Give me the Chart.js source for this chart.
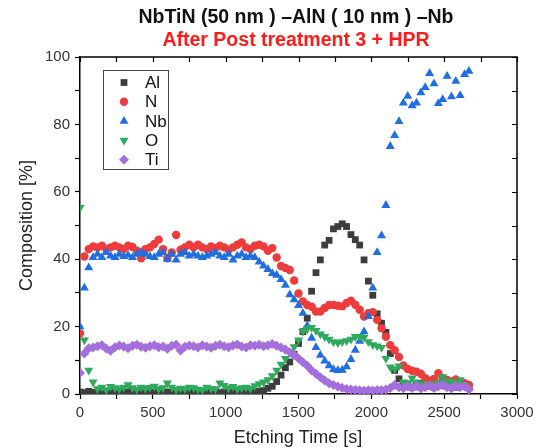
<!DOCTYPE html>
<html><head><meta charset="utf-8">
<script src="https://cdn.jsdelivr.net/npm/chart.js@4/dist/chart.umd.min.js"></script>
<style>html,body{margin:0;padding:0;background:#fff}#wrap{width:549px;height:448px}</style>
</head><body><div id="wrap"><canvas id="c" width="549" height="448"></canvas></div>
<script>
const titleLine1 = 'NbTiN (50 nm ) \u2013AlN ( 10 nm ) \u2013Nb';
const titleLine2 = 'After Post treatment 3 + HPR';
const xTitle = 'Etching Time [s]';
const yTitle = 'Composition [%]';
const seriesNames = ['Al', 'N', 'Nb', 'O', 'Ti'];
const xTickLabels = [0, 500, 1000, 1500, 2000, 2500, 3000];
const yTickLabels = [0, 20, 40, 60, 80, 100];

const time = [0,30,60,90,120,150,180,210,240,270,300,330,360,390,420,450,480,510,540,570,
600,630,660,690,720,750,780,810,840,870,900,930,960,990,1020,1050,1080,1110,1140,1170,
1200,1230,1260,1290,1320,1350,1380,1410,1440,1470,1500,1530,1560,1590,1620,1650,1680,1710,1740,1770,
1800,1830,1860,1890,1920,1950,1980,2010,2040,2070,2100,2130,2160,2190,2220,2250,2280,2310,2340,2370,
2400,2430,2460,2490,2520,2550,2580,2610,2640,2670];

const al = [0.6,0.4,0.8,0.5,0.3,0.9,0.5,0.4,0.7,0.5,0.3,0.6,0.8,0.4,0.5,0.7,0.3,0.5,0.9,0.4,
0.6,0.5,0.3,0.7,0.5,0.4,0.8,0.5,0.6,0.3,0.5,0.7,0.4,0.6,0.5,0.3,0.8,0.5,0.4,0.6,
0.7,0.8,1.0,1.7,2.3,3.7,5.6,7.8,9.5,11.8,15,18.5,22.5,30.5,36,39.8,44.2,45.6,49,49.7,
50.5,49.7,47.3,45.8,44.2,39.8,33.5,29.3,23.8,21,18.3,12,7,4.5,2.4,3.0,2.0,2.5,3.1,2.2,
2.8,2.0,2.5,3.2,2.3,2.7,2.0,2.5,2.2,1.8];

const n = [18,40.8,43,43.8,43.5,44,43,43.5,44,43.5,43,44,43.6,42.5,40.3,43,43.5,44.5,45.8,43,
40.3,42,47.2,42.8,43.5,44.3,43.5,44.3,43.5,43,43.8,43.3,44,43.5,42.8,43.5,44.3,45,43.5,43,
44,44.3,43.8,42.5,43.3,40.5,38,37.4,36.8,33.7,29.8,27.5,26.4,25.9,24.5,24.5,25.5,26.4,26.4,26.2,
26,27,27.7,26.5,25,23,24,24.3,22,19.5,17,14.5,13,11,8.5,7.4,6.9,6.6,6,4.7,
3.9,4.5,6.2,4.6,4.2,3.7,4.3,3.3,3.2,2.7];

const nb = [20,31.5,37.5,40.5,41.5,40.5,42,41,40.5,41.5,40.8,41.2,40.5,41.5,42,41.5,40.8,40.5,41.5,42,
40,41.5,39.8,41.5,42,41,41.5,41,40.5,41,41.5,42,41,40.5,41.5,39.8,41,41.5,40.5,41,
40.5,39.2,38,37,35.8,35.3,34,32.3,29.5,28,26.3,24,20.3,16.6,13.8,11.5,9.8,8.4,7.3,7,
7.1,8.1,10.3,13,15.7,18.5,23,31.5,42,47,56,73.5,76.7,80.9,86.4,88.4,85.6,86.4,89.4,91,
95.1,92.1,86.2,87.4,94.3,88.2,92.8,88.6,94.8,95.8];

const o = [55.3,16,7,3.5,1.5,2.0,1.2,2.2,1.8,1.5,2.0,2.7,1.8,1.4,2.0,1.6,1.9,2.3,1.5,1.8,
3.2,2.0,1.3,1.7,1.5,2.0,1.8,1.4,1.2,2.0,1.6,1.5,3.2,2.5,1.8,2.2,1.5,1.8,2.0,1.6,
2.4,3.0,3.5,4.2,5.4,7,8.8,10.5,12.5,14,16,18.5,19.3,19.7,18.8,17.8,17,16.2,15.5,15.2,
15.5,15.8,16.2,17,17,16.8,15.5,14.6,14.2,13.8,10.5,8,7.5,8.3,3.5,3.2,4.7,3.5,3,2.5,
3,2.6,3.5,5.1,3.8,3.7,3.2,4.2,2.8,1.2];

const ti = [6.2,12,13.6,13.8,14.2,14.5,13.5,12.8,13.9,14.4,14.1,13.6,14.3,14.6,14.0,13.7,14.2,14.5,13.9,14.1,
13.4,14.3,14.6,12.9,14.0,14.4,14.2,13.8,14.5,14.1,13.7,14.3,14.6,14.2,13.9,14.4,14.7,14.1,13.8,14.5,
14.3,14.6,14.2,14.5,14.8,14.3,13.8,13.2,12.4,11.6,10.5,9.4,8.4,7,6,5,4,3.2,2.7,2.2,
1.8,1.5,1.3,1.2,1.1,1.0,1.1,1.0,1.2,1.1,1.3,1.8,2.7,2.0,1.7,2.2,1.8,2.4,1.6,2.0,
2.6,1.8,2.3,2.7,2.0,1.6,2.4,2.0,2.2,1.4];

const colors = ['#3d3d3d', '#ee3b3b', '#1f6fe3', '#2fa95c', '#a46fdd'];
const styles = [
  {pointStyle: 'rect', radius: 4.8, rotation: 0},
  {pointStyle: 'circle', radius: 4.2, rotation: 0},
  {pointStyle: 'triangle', radius: 5.2, rotation: 0},
  {pointStyle: 'triangle', radius: 5.2, rotation: 180},
  {pointStyle: 'rectRot', radius: 5, rotation: 0}
];
const values = [al, n, nb, o, ti];

const FONT = "'Liberation Sans', Arial, sans-serif";

const datasets = values.map((arr, k) => ({
  label: seriesNames[k],
  data: arr.map((v, i) => ({x: time[i], y: v})),
  showLine: false,
  pointStyle: styles[k].pointStyle,
  pointRadius: styles[k].radius,
  pointRotation: styles[k].rotation,
  pointBackgroundColor: colors[k],
  pointBorderWidth: 0,
  pointBorderColor: colors[k],
  order: 5 - k
}));

function drawMarker(ctx, k, x, y) {
  const s = styles[k];
  ctx.save();
  ctx.fillStyle = colors[k];
  ctx.beginPath();
  const r = s.radius;
  if (s.pointStyle === 'rect') {
    const h = r * Math.SQRT1_2;
    ctx.rect(x - h, y - h, 2 * h, 2 * h);
  } else if (s.pointStyle === 'circle') {
    ctx.arc(x, y, r, 0, Math.PI * 2);
  } else if (s.pointStyle === 'triangle') {
    let rad = s.rotation * Math.PI / 180;
    for (let j = 0; j < 3; j++) {
      const px = x + Math.sin(rad) * r, py = y - Math.cos(rad) * r;
      if (j === 0) ctx.moveTo(px, py); else ctx.lineTo(px, py);
      rad += 2 * Math.PI / 3;
    }
    ctx.closePath();
  } else {
    ctx.moveTo(x - r, y); ctx.lineTo(x, y - r); ctx.lineTo(x + r, y); ctx.lineTo(x, y + r);
    ctx.closePath();
  }
  ctx.fill();
  ctx.restore();
}

const decor = {
  id: 'decor',
  afterDraw(chart) {
    const ctx = chart.ctx;
    const a = chart.chartArea;
    const xs = chart.scales.x, ys = chart.scales.y;
    const cx = 296;
    ctx.save();
    // titles
    ctx.textAlign = 'center';
    ctx.textBaseline = 'alphabetic';
    ctx.font = 'bold 19.5px ' + FONT;
    ctx.fillStyle = '#111';
    ctx.fillText(titleLine1, cx, 23);
    ctx.fillStyle = '#ff1a1a';
    ctx.fillText(titleLine2, cx, 46);
    // axis titles
    ctx.textBaseline = 'middle';
    ctx.fillStyle = '#222';
    ctx.font = '18px ' + FONT;
    ctx.fillText(xTitle, 298, 438);
    ctx.save();
    ctx.translate(27, (a.top + a.bottom) / 2);
    ctx.rotate(-Math.PI / 2);
    ctx.fillText(yTitle, 0, 0);
    ctx.restore();
    // top and right frame
    ctx.strokeStyle = '#000';
    ctx.lineWidth = 1.5;
    ctx.beginPath();
    ctx.moveTo(a.left, a.top); ctx.lineTo(a.right, a.top); ctx.lineTo(a.right, a.bottom);
    ctx.stroke();
    ctx.lineWidth = 1.2;
    ctx.beginPath();
    xs.ticks.forEach(t => {
      const px = Math.round(xs.getPixelForValue(t.value)) + 0.5;
      ctx.moveTo(px, a.top); ctx.lineTo(px, a.top + 5);
    });
    ys.ticks.forEach(t => {
      const py = Math.round(ys.getPixelForValue(t.value)) + 0.5;
      ctx.moveTo(a.right, py); ctx.lineTo(a.right - 5, py);
    });
    ctx.stroke();
    // legend
    const bx = 103.5, by = 70.5, bw = 65, bh = 99;
    ctx.fillStyle = '#fff';
    ctx.fillRect(bx, by, bw, bh);
    ctx.strokeStyle = '#444';
    ctx.lineWidth = 1;
    ctx.strokeRect(bx, by, bw, bh);
    ctx.font = '17px ' + FONT;
    ctx.textAlign = 'left';
    seriesNames.forEach((nm, k) => {
      const yy = 82.5 + k * 19.3;
      drawMarker(ctx, k, 124, yy);
      ctx.fillStyle = '#111';
      ctx.fillText(nm, 145, yy + 1);
    });
    ctx.restore();
  }
};

new Chart(document.getElementById('c'), {
  type: 'scatter',
  data: {datasets},
  options: {
    responsive: false,
    animation: false,
    devicePixelRatio: 1,
    layout: {padding: {left: 0, right: 32, top: 57, bottom: 0}},
    plugins: {legend: {display: false}, tooltip: {enabled: false}, title: {display: false}},
    scales: {
      x: {
        type: 'linear', min: 0, max: 3000,
        afterFit: s => { s.height = 54; },
        ticks: {
          stepSize: 250, autoSkip: false, maxRotation: 0, padding: 5,
          callback: v => xTickLabels.includes(v) ? String(v) : '',
          font: {family: FONT, size: 15}, color: '#333'
        },
        grid: {drawOnChartArea: false, drawTicks: true, tickLength: 5, tickColor: '#000', tickWidth: 1.2},
        border: {color: '#000', width: 1.5}
      },
      y: {
        min: 0, max: 100,
        afterFit: s => { s.width = 80; },
        ticks: {
          stepSize: 10, autoSkip: false, padding: 5,
          callback: v => yTickLabels.includes(v) ? String(v) : '',
          font: {family: FONT, size: 15}, color: '#333'
        },
        grid: {drawOnChartArea: false, drawTicks: true, tickLength: 5, tickColor: '#000', tickWidth: 1.2},
        border: {color: '#000', width: 1.5}
      }
    }
  },
  plugins: [decor]
});
</script>
</body></html>
